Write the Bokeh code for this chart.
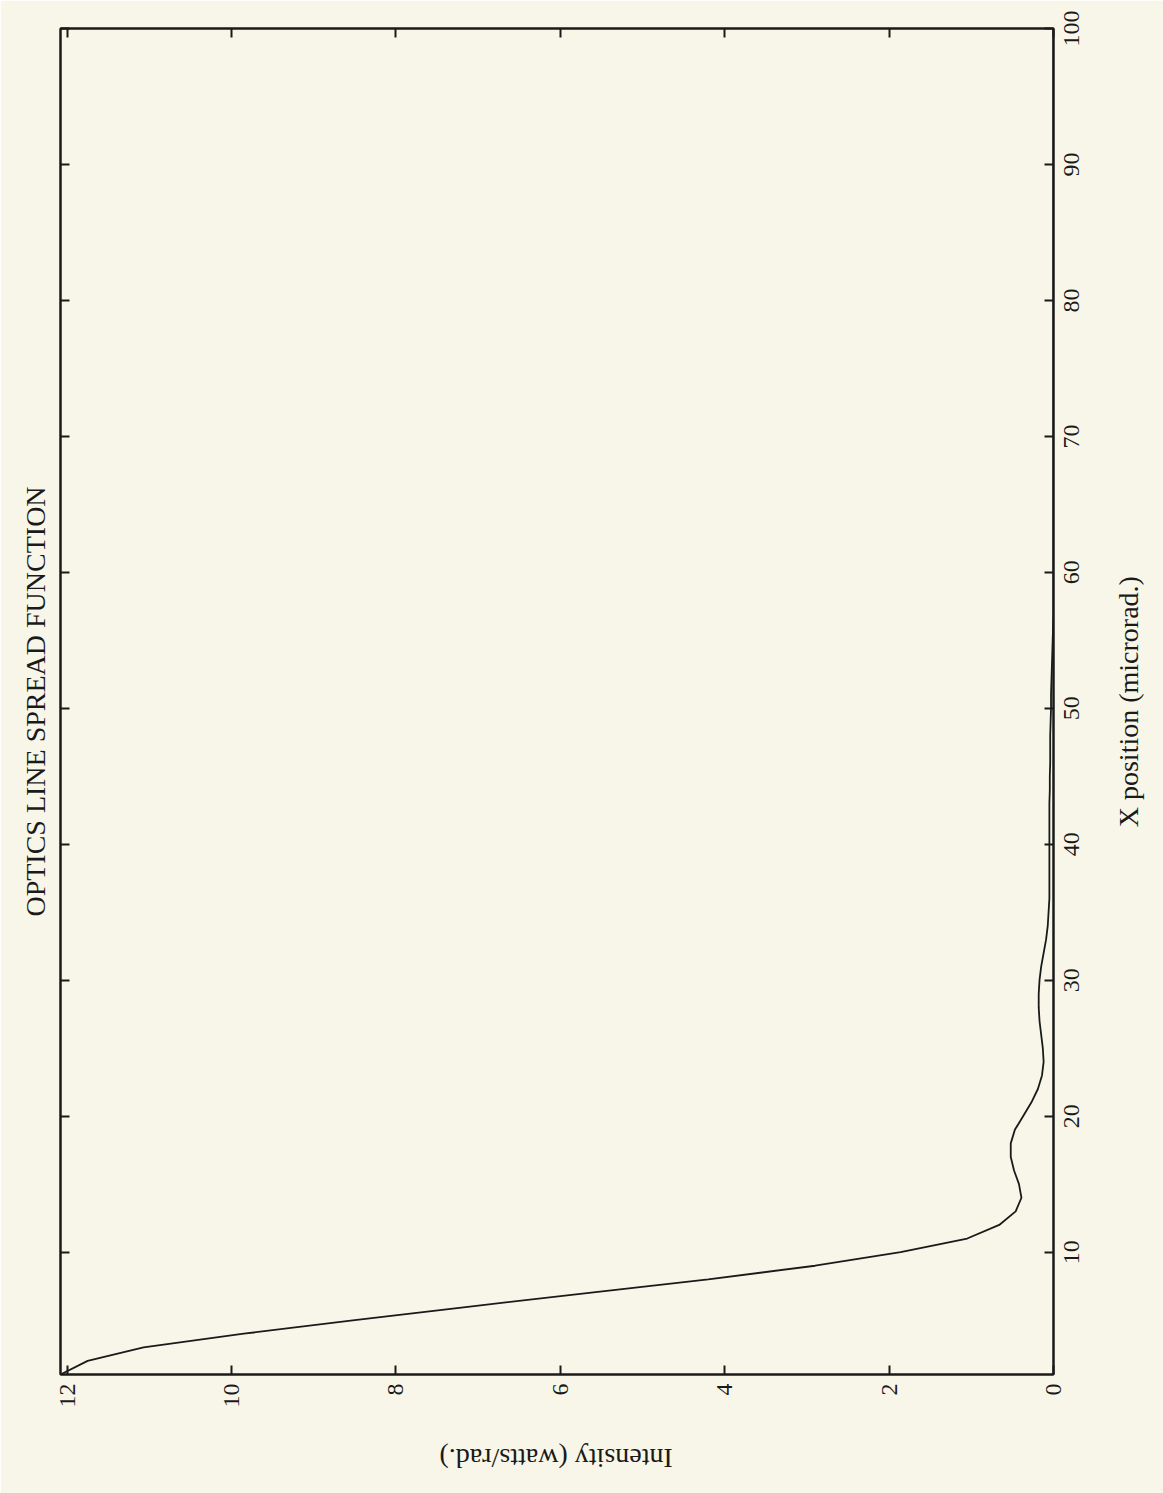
from math import pi
from bokeh.plotting import figure
from bokeh.models import Range1d, LinearAxis, FixedTicker, Title
from bokeh.embed import file_html
from bokeh.resources import INLINE

# ---- data ----
position = [1, 2, 3, 4, 5, 6, 7, 8, 9, 10,
            11, 12, 13, 14, 15, 16, 17, 18, 19, 20,
            21, 22, 23, 24, 25, 26, 27, 28, 29, 30,
            31, 32, 33, 34, 35, 36, 37, 38, 39, 40,
            41, 42, 43, 44, 45, 46, 47, 48, 49, 50,
            51, 52, 53, 54, 55, 56, 57, 58, 59, 60,
            61, 62, 63, 64, 65, 66, 67, 68, 69, 70,
            71, 72, 73, 74, 75, 76, 77, 78, 79, 80,
            81, 82, 83, 84, 85, 86, 87, 88, 89, 90,
            91, 92, 93, 94, 95, 96, 97, 98, 99, 100]
intensity = [12.08, 11.75, 11.07, 9.85, 8.5, 7.1, 5.65, 4.2, 2.9, 1.86,
             1.05, 0.66, 0.46, 0.39, 0.42, 0.48, 0.52, 0.52, 0.47, 0.37,
             0.27, 0.19, 0.14, 0.12, 0.13, 0.15, 0.17, 0.18, 0.18, 0.17,
             0.15, 0.12, 0.09, 0.07, 0.06, 0.05, 0.05, 0.05, 0.05, 0.05,
             0.05, 0.05, 0.05, 0.045, 0.045, 0.04, 0.04, 0.04, 0.035, 0.03,
             0.03, 0.025, 0.02, 0.015, 0.01, 0.005, 0.0, 0.0, 0.0, 0.0,
             0.0, 0.0, 0.0, 0.0, 0.0, 0.0, 0.0, 0.0, 0.0, 0.0,
             0.0, 0.0, 0.0, 0.0, 0.0, 0.0, 0.0, 0.0, 0.0, 0.0,
             0.0, 0.0, 0.0, 0.0, 0.0, 0.0, 0.0, 0.0, 0.0, 0.0,
             0.0, 0.0, 0.0, 0.0, 0.0, 0.0, 0.0, 0.0, 0.0, 0.0]
intensity_ticks = [0, 2, 4, 6, 8, 10, 12]
position_ticks = [10, 20, 30, 40, 50, 60, 70, 80, 90, 100]

title_text = "OPTICS LINE SPREAD FUNCTION"
xlabel_text = "X position (microrad.)"
ylabel_text = "Intensity (watts/rad.)"

BG = "#f8f6e8"
INK = "#1a1a1a"
FONT = "Liberation Serif"

W, H = 1163, 1493
p = figure(width=W, height=H, output_backend="svg", toolbar_location=None,
           x_range=Range1d(max(intensity), 0), y_range=Range1d(1, 100),
           x_axis_location="below", y_axis_location="right",
           min_border_left=60, min_border_right=110, min_border_top=28,
           min_border_bottom=119,
           background_fill_color=BG, border_fill_color=BG)
p.grid.visible = False
p.outline_line_color = INK
p.outline_line_width = 2

p.line(intensity, position, line_color=INK, line_width=1.8)

# mirrored tick-only axes on top and left
p.add_layout(LinearAxis(), "above")
p.add_layout(LinearAxis(), "left")

for ax in p.xaxis:
    ax.ticker = FixedTicker(ticks=intensity_ticks)
for ax in p.yaxis:
    ax.ticker = FixedTicker(ticks=position_ticks)

for ax in list(p.xaxis) + list(p.yaxis):
    ax.major_tick_in = 9
    ax.major_tick_out = 0
    ax.minor_tick_in = 0
    ax.minor_tick_out = 0
    ax.major_tick_line_color = INK
    ax.major_tick_line_width = 2
    ax.axis_line_color = INK
    ax.axis_line_width = 2
    ax.major_label_orientation = pi / 2
    ax.major_label_text_font = FONT
    ax.major_label_text_font_size = "24px"
    ax.major_label_text_color = INK
    ax.major_label_standoff = 9

# tick-only axes: mirrored top/left and the right one (its labels come next)
for ax in p.above + p.left + p.right:
    if isinstance(ax, LinearAxis):
        ax.major_label_text_font_size = "0px"
        ax.major_label_text_alpha = 0
        ax.major_label_standoff = 0


def text_axis(ticks, overrides, orient, standoff, size):
    return LinearAxis(ticker=FixedTicker(ticks=ticks),
                      major_label_overrides=overrides,
                      major_label_orientation=orient,
                      major_label_standoff=standoff,
                      major_label_text_font=FONT,
                      major_label_text_font_size=size,
                      major_label_text_color=INK,
                      axis_line_color=None, major_tick_line_color=None,
                      minor_tick_line_color=None,
                      major_tick_in=0, major_tick_out=0,
                      minor_tick_in=0, minor_tick_out=0)


# right tick labels, centred on their ticks (Bokeh anchors rotated labels at
# their start, so each anchor sits half a label length below the tick)
PX_PER_POS = 1346 / 99.0
shifted = [round(t - len(str(t)) * 6.0 / PX_PER_POS, 3) for t in position_ticks]
right_labels = text_axis(shifted, {s: str(t) for s, t in zip(shifted, position_ticks)},
                         pi / 2, 18, "24px")
p.add_layout(right_labels, "right")

# x-position axis label (reads bottom-to-top, on the right)
xlabel_anchor = 41.25
p.add_layout(text_axis([xlabel_anchor], {xlabel_anchor: xlabel_text},
                       pi / 2, 39, "28px"), "right")

# intensity axis label (upside down, below)
ylabel_anchor = 7.47
p.add_layout(text_axis([ylabel_anchor], {ylabel_anchor: ylabel_text},
                       pi, 48, "28px"), "below")

# title on the (rotated) top side = left
p.add_layout(Title(text=title_text, align="center", text_font=FONT,
                   text_font_size="28px", text_font_style="normal",
                   text_color=INK, standoff=20), "left")

open("out.html", "w").write(file_html(p, INLINE))
